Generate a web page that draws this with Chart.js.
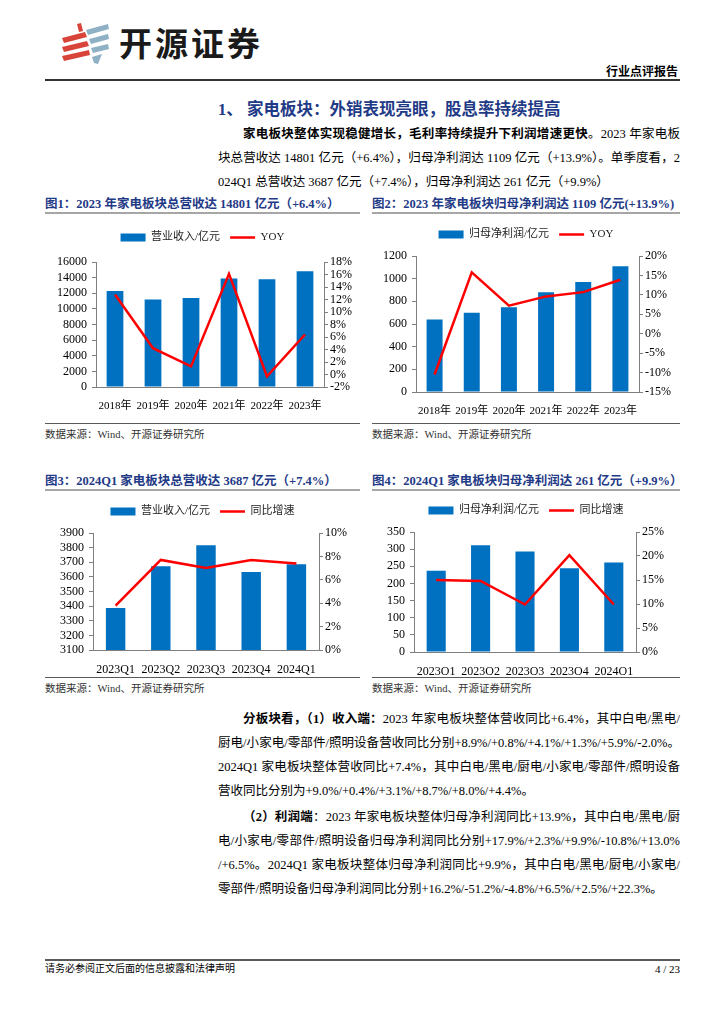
<!DOCTYPE html>
<html>
<head>
<meta charset="utf-8">
<script src="https://cdn.jsdelivr.net/npm/chart.js@4.4.1/dist/chart.umd.min.js"></script>
<style>
  html, body { margin: 0; padding: 0; background: #fff; }
  #page { position: relative; width: 724px; height: 1024px; overflow: hidden;
    font-family: "Liberation Serif", "Noto Sans CJK SC", serif; color: #000; }
  .abs { position: absolute; }
  .ln { position: absolute; left: 218px; width: 462px; font-size: 12.5px; line-height: 20px; height: 20px;
    text-align: justify; text-align-last: justify; }
  .ln.last { text-align-last: left; }
  .ln.ind { text-indent: 25px; }
  .ft { position: absolute; font-size: 12.5px; line-height: 18px; font-weight: bold; color: #1f3a86; white-space: nowrap; }
  .bar { position: absolute; height: 2px; background: #a6a6a6; }
  .rule { position: absolute; height: 1px; background: #595959; }
  .src { position: absolute; font-size: 10.5px; line-height: 14px; color: #333; white-space: nowrap; }
  .box { position: absolute; }
</style>
</head>
<body>
<div id="page">
  <!-- 页眉 -->
  <svg class="abs" style="left:58px;top:22px" width="54" height="44" viewBox="0 0 54 44">
    <polygon points="19,2 23,1 25,9 21,10" fill="#d9443a"/>
    <polygon points="4,16 27,10 29,15 6,21" fill="#d9443a"/>
    <polygon points="4,25 29,19 31,24 6,30" fill="#d9443a"/>
    <polygon points="4,34 31,28 32,33 6,39" fill="#d9443a"/>
    <polygon points="28,8 50,2 51,7 30,13" fill="#8fb1c6"/>
    <polygon points="31,17 50,12 51,17 33,22" fill="#8fb1c6"/>
    <polygon points="33,26 50,22 51,27 35,31" fill="#8fb1c6"/>
    <polygon points="34,35 44,32 40,42 36,41" fill="#8fb1c6"/>
  </svg>
  <div class="abs" style="left:119px;top:22px;font-family:'Noto Sans CJK SC',sans-serif;font-size:33px;line-height:40px;font-weight:700;letter-spacing:3px;color:#1a1a1a;">开源证券</div>
  <div class="abs" style="right:46px;top:64px;font-size:12px;line-height:16px;font-weight:bold;">行业点评报告</div>
  <div class="abs" style="left:45px;top:79px;width:635px;height:1.5px;background:#333;"></div>

  <!-- 标题与正文 -->
  <div class="abs" style="left:218px;top:99px;font-size:16.5px;line-height:22px;font-weight:bold;color:#1f3a86;white-space:nowrap;">1、 家电板块：外销表现亮眼，股息率持续提高</div>
  <div class="ln ind" style="top:124px;"><b>家电板块整体实现稳健增长，毛利率持续提升下利润增速更快</b>。2023 年家电板</div>
  <div class="ln" style="top:148px;">块总营收达 14801 亿元（+6.4%），归母净利润达 1109 亿元（+13.9%）。单季度看，2</div>
  <div class="ln last" style="top:172px;">024Q1 总营收达 3687 亿元（+7.4%），归母净利润达 261 亿元（+9.9%）</div>

  <!-- 图1 / 图2 -->
  <div class="ft" style="left:45px;top:195px;">图1：2023 年家电板块总营收达 14801 亿元（+6.4%）</div>
  <div class="ft" style="left:372px;top:195px;">图2：2023 年家电板块归母净利润达 1109 亿元(+13.9%)</div>
  <div class="bar" style="left:45px;top:212px;width:315px;"></div>
  <div class="bar" style="left:372px;top:212px;width:308px;"></div>
  <div class="box" style="left:45px;top:222px;width:315px;height:196px;"><canvas id="c1"></canvas></div>
  <div class="box" style="left:372px;top:219px;width:308px;height:199px;"><canvas id="c2"></canvas></div>
  <div class="rule" style="left:45px;top:423px;width:315px;"></div>
  <div class="rule" style="left:372px;top:423px;width:308px;"></div>
  <div class="src" style="left:45px;top:428px;">数据来源：Wind、开源证券研究所</div>
  <div class="src" style="left:372px;top:428px;">数据来源：Wind、开源证券研究所</div>

  <!-- 图3 / 图4 -->
  <div class="ft" style="left:45px;top:472px;">图3：2024Q1 家电板块总营收达 3687 亿元（+7.4%）</div>
  <div class="ft" style="left:372px;top:472px;">图4：2024Q1 家电板块归母净利润达 261 亿元（+9.9%）</div>
  <div class="bar" style="left:45px;top:489px;width:315px;"></div>
  <div class="bar" style="left:372px;top:489px;width:308px;"></div>
  <div class="box" style="left:45px;top:496px;width:315px;height:179px;"><canvas id="c3"></canvas></div>
  <div class="box" style="left:372px;top:495px;width:308px;height:180px;"><canvas id="c4"></canvas></div>
  <div class="rule" style="left:45px;top:677px;width:315px;"></div>
  <div class="rule" style="left:372px;top:677px;width:308px;"></div>
  <div class="src" style="left:45px;top:682px;">数据来源：Wind、开源证券研究所</div>
  <div class="src" style="left:372px;top:682px;">数据来源：Wind、开源证券研究所</div>

  <!-- 分板块 -->
  <div class="ln ind" style="top:709px;"><b>分板块看，（1）收入端：</b>2023 年家电板块整体营收同比+6.4%，其中白电/黑电/</div>
  <div class="ln" style="top:733px;">厨电/小家电/零部件/照明设备营收同比分别+8.9%/+0.8%/+4.1%/+1.3%/+5.9%/-2.0%。</div>
  <div class="ln" style="top:757px;">2024Q1 家电板块整体营收同比+7.4%，其中白电/黑电/厨电/小家电/零部件/照明设备</div>
  <div class="ln last" style="top:781px;">营收同比分别为+9.0%/+0.4%/+3.1%/+8.7%/+8.0%/+4.4%。</div>

  <div class="ln ind" style="top:807px;"><b>（2）利润端</b>：2023 年家电板块整体归母净利润同比+13.9%，其中白电/黑电/厨</div>
  <div class="ln" style="top:831px;">电/小家电/零部件/照明设备归母净利润同比分别+17.9%/+2.3%/+9.9%/-10.8%/+13.0%</div>
  <div class="ln" style="top:855px;">/+6.5%。2024Q1 家电板块整体归母净利润同比+9.9%，其中白电/黑电/厨电/小家电/</div>
  <div class="ln last" style="top:879px;">零部件/照明设备归母净利润同比分别+16.2%/-51.2%/-4.8%/+6.5%/+2.5%/+22.3%。</div>

  <!-- 页脚 -->
  <div class="abs" style="left:45px;top:959px;width:635px;height:2px;background:#595959;"></div>
  <div class="abs" style="left:45px;top:962px;font-size:10px;line-height:14px;white-space:nowrap;">请务必参阅正文后面的信息披露和法律声明</div>
  <div class="abs" style="right:44px;top:962px;font-size:11px;line-height:14px;">4 / 23</div>
</div>

<script>
const years = ['2018年', '2019年', '2020年', '2021年', '2022年', '2023年'];
const revenue = [12300, 11200, 11400, 13900, 13800, 14801];
const revenueYoy = [12.8, 4.2, 1.3, 16.1, -0.3, 6.4];
const profit = [640, 700, 748, 880, 971, 1109];
const profitYoy = [-10.5, 15.8, 7.2, 9.6, 10.7, 13.9];

const quarters = ['2023Q1', '2023Q2', '2023Q3', '2023Q4', '2024Q1'];
const qRevenue = [3387, 3672, 3816, 3633, 3687];
const qRevenueYoy = [3.8, 7.7, 7.0, 7.7, 7.4];
const qProfit = [237, 311, 293, 244, 261];
const qProfitYoy = [15.0, 14.8, 9.9, 20.2, 9.9];

Chart.defaults.font.family = '"Liberation Serif", "Noto Sans CJK SC", serif';
Chart.defaults.font.size = 12;
Chart.defaults.color = '#000';
Chart.defaults.animation = false;

const BLUE = '#0070c0';
const RED = '#ff0000';
const AXIS = '#7f7f7f';

// 固定图例高度，让绘图区位置和原图一致
function legendHeight(h) {
  return {
    id: 'legendHeight',
    beforeLayout(chart) {
      const lg = chart.legend;
      if (lg && !lg._fixed) {
        const fit = lg.fit;
        lg.fit = function () { fit.call(this); this.height = h; };
        lg._fixed = true;
      }
    }
  };
}

function yAxis(position, min, max, step, width, pad, fmt) {
  return {
    position, min, max,
    ticks: { stepSize: step, padding: pad, autoSkip: false, callback: fmt },
    grid: { drawOnChartArea: false, drawTicks: true, tickLength: 4, color: AXIS },
    border: { color: AXIS },
    afterFit(s) { s.width = width; }
  };
}

function makeChart(id, c) {
  const ctx = document.getElementById(id).getContext('2d');
  return new Chart(ctx, {
    type: 'bar',
    data: {
      labels: c.labels,
      datasets: [{
        label: c.barLabel,
        data: c.bars,
        backgroundColor: BLUE,
        borderWidth: 0,
        barPercentage: c.barPct,
        categoryPercentage: 1,
        yAxisID: 'y',
        order: 1
      }, {
        type: 'line',
        label: c.lineLabel,
        data: c.line,
        borderColor: RED,
        backgroundColor: RED,
        borderWidth: 2.5,
        pointRadius: 0,
        tension: 0,
        yAxisID: 'y1',
        order: 0
      }]
    },
    options: {
      responsive: true,
      maintainAspectRatio: false,
      layout: { padding: 0 },
      plugins: {
        tooltip: { enabled: false },
        legend: {
          position: 'top',
          labels: {
            usePointStyle: true,
            pointStyleWidth: 25,
            boxHeight: 8,
            padding: 10,
            color: '#222',
            font: { size: 11 },
            sort: (a, b) => a.datasetIndex - b.datasetIndex,
            generateLabels(chart) {
              const items = Chart.defaults.plugins.legend.labels.generateLabels(chart);
              items.forEach(it => { it.pointStyle = it.datasetIndex === 0 ? 'rect' : 'line'; });
              return items;
            }
          }
        }
      },
      scales: {
        x: {
          grid: { display: false },
          border: { color: AXIS },
          ticks: { padding: 5, maxRotation: 0, autoSkip: false, font: { size: c.xFont } },
          afterFit(s) { s.height = c.xHeight; }
        },
        y: yAxis('left', c.left[0], c.left[1], c.left[2], c.leftWidth, 5, v => String(v)),
        y1: yAxis('right', c.right[0], c.right[1], c.right[2], c.rightWidth, 2, v => v + '%')
      }
    },
    plugins: [legendHeight(c.topHeight)]
  });
}

makeChart('c1', {
  labels: years, bars: revenue, line: revenueYoy,
  barLabel: '营业收入/亿元', lineLabel: 'YOY',
  left: [0, 16000, 2000], right: [-2, 18, 2],
  leftWidth: 51, rightWidth: 36, topHeight: 40, xHeight: 31, barPct: 0.44, xFont: 11
});

makeChart('c2', {
  labels: years, bars: profit, line: profitYoy,
  barLabel: '归母净利润/亿元', lineLabel: 'YOY',
  left: [0, 1200, 200], right: [-15, 20, 5],
  leftWidth: 44, rightWidth: 41, topHeight: 37, xHeight: 26, barPct: 0.43, xFont: 11
});

makeChart('c3', {
  labels: quarters, bars: qRevenue, line: qRevenueYoy,
  barLabel: '营业收入/亿元', lineLabel: '同比增速',
  left: [3100, 3900, 100], right: [0, 10, 2],
  leftWidth: 48, rightWidth: 41, topHeight: 37, xHeight: 25, barPct: 0.43, xFont: 12
});

makeChart('c4', {
  labels: quarters, bars: qProfit, line: qProfitYoy,
  barLabel: '归母净利润/亿元', lineLabel: '同比增速',
  left: [0, 350, 50], right: [0, 25, 5],
  leftWidth: 42, rightWidth: 44, topHeight: 37, xHeight: 23, barPct: 0.43, xFont: 12
});
</script>
</body>
</html>
